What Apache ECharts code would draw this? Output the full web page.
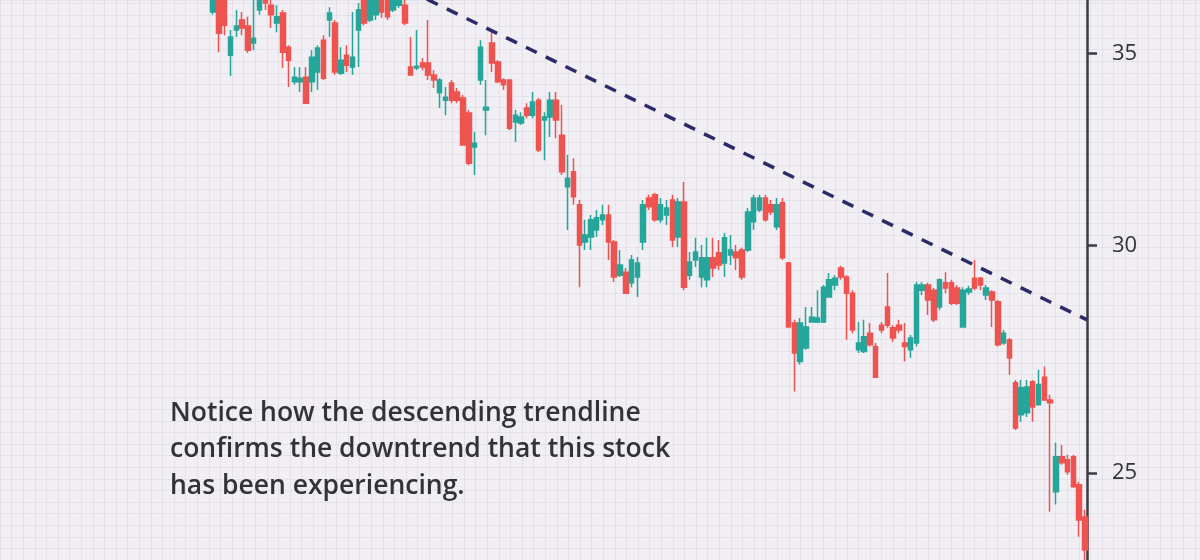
<!DOCTYPE html>
<html><head><meta charset="utf-8">
<script src="https://cdn.jsdelivr.net/npm/echarts@6/dist/echarts.min.js"></script>
<style>html,body{margin:0;padding:0;background:#f1eef4}#chart{width:1200px;height:560px}</style>
</head><body><div id="chart"></div>
<script>
// Daily OHLC values (price), one entry per session, left to right
const opens = [36.18, 36.67, 36.53, 34.95, 35.66, 35.95, 35.78, 35.29, 36.24, 36.67,
36.38, 35.86, 36.15, 35.17, 34.21, 34.21, 34.34, 34.21, 34.48, 35.37,
35.95, 35.86, 34.45, 34.95, 34.62, 35.66, 36.67, 35.95, 36.10, 36.53,
36.59, 36.24, 36.38, 36.38, 34.62, 34.59, 34.73, 34.73, 34.40, 33.91,
33.71, 34.18, 33.93, 33.77, 33.37, 32.47, 34.26, 33.45, 35.29, 34.76,
34.26, 34.26, 33.13, 33.10, 33.50, 33.31, 33.71, 33.18, 33.26, 33.71,
32.78, 31.45, 31.83, 31.00, 30.09, 30.21, 30.38, 30.63, 30.75, 30.09,
29.30, 29.37, 29.12, 29.26, 30.09, 31.17, 31.25, 30.63, 30.75, 31.12,
30.21, 31.07, 29.30, 29.66, 29.26, 29.19, 29.71, 29.83, 29.59, 29.78,
29.85, 29.90, 29.90, 30.58, 30.87, 31.17, 31.00, 30.46, 31.05, 29.59,
28.20, 27.34, 27.64, 28.22, 28.22, 28.22, 28.79, 29.07, 29.47, 29.26,
28.88, 27.60, 27.56, 27.97, 27.67, 28.15, 28.56, 28.09, 28.15, 27.75,
27.60, 27.75, 28.95, 29.07, 28.95, 28.56, 29.12, 29.12, 29.00, 28.11,
28.91, 29.23, 29.23, 28.84, 28.91, 28.68, 27.75, 27.82, 26.88, 26.20,
26.24, 26.90, 26.41, 27.00, 26.51, 24.63, 25.33, 25.27, 25.33, 24.77,
24.14];
const closes = [36.82, 35.57, 35.80, 35.46, 35.78, 35.72, 35.09, 35.43, 36.67, 36.44,
36.10, 36.04, 35.03, 34.81, 34.34, 34.31, 33.63, 34.89, 35.15, 34.31,
36.15, 34.48, 34.81, 34.67, 34.89, 36.24, 35.86, 36.67, 36.53, 36.18,
36.04, 36.59, 36.62, 35.86, 34.40, 34.64, 34.62, 34.40, 34.26, 34.26,
33.79, 33.71, 33.71, 32.52, 32.05, 32.57, 35.17, 33.52, 34.73, 34.21,
34.13, 32.96, 33.31, 33.26, 33.31, 33.66, 32.39, 33.26, 33.71, 33.18,
31.83, 31.67, 31.20, 30.02, 30.26, 30.63, 30.68, 30.75, 30.09, 29.26,
29.54, 28.88, 29.66, 29.59, 31.00, 30.95, 30.63, 31.00, 30.92, 30.14,
31.07, 29.02, 29.61, 29.85, 29.71, 29.71, 29.47, 29.54, 30.19, 29.90,
29.71, 29.26, 30.82, 31.17, 31.17, 30.63, 30.82, 31.00, 29.71, 28.11,
27.53, 28.20, 28.11, 28.33, 28.31, 29.02, 29.19, 29.23, 29.26, 28.88,
28.04, 27.75, 27.89, 27.71, 27.00, 28.04, 28.15, 27.86, 28.04, 27.67,
27.86, 29.07, 29.07, 28.72, 28.27, 29.19, 29.00, 28.65, 28.65, 28.95,
28.98, 29.00, 29.07, 29.00, 28.72, 27.71, 27.97, 27.42, 25.92, 26.77,
26.79, 26.36, 26.84, 26.51, 26.45, 25.33, 25.21, 25.03, 24.73, 24.08,
23.51];
const lows = [36.10, 35.03, 35.51, 34.37, 35.46, 35.51, 35.01, 35.09, 36.10, 36.24,
35.72, 35.60, 34.59, 34.07, 34.13, 33.93, 33.63, 33.93, 33.99, 34.26,
35.46, 34.40, 34.40, 34.48, 34.40, 34.62, 35.80, 35.89, 35.95, 36.01,
35.95, 36.18, 36.30, 35.80, 34.40, 34.53, 34.53, 34.26, 34.04, 33.50,
33.31, 33.63, 33.63, 32.52, 32.00, 31.75, 34.13, 32.78, 34.48, 34.18,
33.99, 32.91, 32.60, 33.05, 33.23, 33.23, 32.34, 32.13, 32.73, 32.70,
31.75, 30.38, 31.00, 29.02, 29.90, 29.90, 30.21, 30.50, 29.66, 29.14,
29.26, 28.88, 29.02, 28.79, 29.90, 30.87, 30.58, 30.56, 30.50, 29.97,
29.97, 28.95, 29.19, 29.49, 29.02, 29.02, 29.26, 29.42, 29.26, 29.54,
29.42, 29.19, 29.85, 30.38, 30.82, 30.58, 30.75, 30.38, 29.66, 28.09,
26.69, 27.27, 27.60, 28.22, 28.20, 28.20, 28.79, 28.95, 29.19, 27.82,
27.97, 27.53, 27.53, 27.67, 27.00, 27.97, 28.09, 27.78, 27.97, 27.34,
27.42, 27.67, 28.84, 28.38, 28.22, 28.49, 28.88, 28.61, 28.61, 28.11,
28.84, 28.95, 28.95, 28.72, 28.11, 27.67, 27.71, 27.05, 25.88, 26.05,
26.15, 26.05, 26.41, 26.51, 24.24, 24.38, 25.17, 24.97, 24.71, 23.76,
23.23];
const highs = [37.12, 36.97, 36.82, 35.66, 36.24, 36.18, 36.04, 36.53, 36.97, 36.82,
36.53, 36.38, 36.24, 35.23, 34.62, 34.62, 34.62, 35.09, 35.23, 35.51,
36.32, 35.95, 35.17, 35.23, 36.18, 36.44, 36.82, 36.82, 36.82, 36.82,
36.76, 36.82, 36.82, 36.53, 35.46, 35.66, 34.87, 35.95, 34.53, 34.31,
34.07, 34.26, 34.04, 33.85, 33.45, 32.86, 35.37, 34.26, 35.60, 34.81,
34.31, 34.26, 33.45, 33.39, 33.63, 33.93, 33.77, 33.39, 33.93, 33.93,
33.58, 32.26, 32.18, 31.12, 30.63, 30.75, 30.87, 31.00, 31.00, 30.14,
29.90, 29.47, 29.78, 29.73, 31.12, 31.25, 31.30, 31.17, 31.12, 31.25,
31.17, 31.57, 29.85, 30.19, 30.02, 30.19, 30.19, 30.14, 30.31, 30.26,
30.02, 29.95, 30.92, 31.25, 31.25, 31.25, 31.12, 31.17, 31.17, 29.61,
28.27, 28.31, 28.56, 28.56, 28.95, 29.07, 29.35, 29.30, 29.52, 29.30,
28.95, 28.22, 28.27, 28.20, 27.75, 28.22, 29.35, 28.15, 28.27, 28.20,
27.93, 29.14, 29.14, 29.12, 29.00, 29.23, 29.37, 29.19, 29.07, 29.02,
29.05, 29.66, 29.26, 29.07, 28.95, 28.72, 28.04, 27.86, 26.94, 26.94,
26.94, 26.94, 27.16, 27.23, 26.62, 25.62, 25.57, 25.37, 25.37, 24.83,
24.28];

// Price axis ticks
const yTicks = [25, 30, 35];

// Descending trendline: session index and price at its two ends
const trendX = [30, 150.34];
const trendY = [37.12, 28.27];

// Annotation text
const noteLines = [
  'Notice how the descending trendline',
  'confirms the downtrend that this stock',
  'has been experiencing.'
];

const candles = opens.map((o, i) => [i, o, closes[i], lows[i], highs[i]]);
const trend = trendX.map((x, i) => [x, trendY[i]]);

const chart = echarts.init(document.getElementById('chart'), null, {renderer: 'canvas'});
chart.setOption({
  backgroundColor: '#f1eef4',
  animation: false,
  title: {
    text: noteLines.join('\n'),
    left: 170, top: 395, padding: 0,
    textStyle: {fontFamily: 'Open Sans', fontSize: 26.5, fontWeight: 600, lineHeight: 36.5, color: '#333336'}
  },
  grid: [
    {left: 0, right: 113, top: 0, bottom: 0},
    {left: 0, right: 0, top: 0, bottom: 0}
  ],
  xAxis: [
    {type: 'value', gridIndex: 0, min: -36.64, max: 150.34, show: false},
    {type: 'value', gridIndex: 1, min: 0, max: 103.45, interval: 1,
     axisLine: {show: false}, axisTick: {show: false}, axisLabel: {show: false},
     splitLine: {show: true, lineStyle: {color: 'rgba(130,125,145,0.10)', width: 1}}}
  ],
  yAxis: [
    {type: 'log', gridIndex: 0, position: 'right', min: 23.32, max: 36.53,
     splitLine: {show: false},
     axisLine: {show: true, onZero: false, lineStyle: {color: '#3b3b44', width: 2.5}},
     axisTick: {show: true, customValues: yTicks, length: 10, lineStyle: {color: '#3b3b44', width: 2.5}},
     axisLabel: {show: true, customValues: yTicks, margin: 25, fontSize: 22, color: '#333338', fontFamily: 'Open Sans',
       formatter: v => String(Math.round(v))}},
    {type: 'value', gridIndex: 1, min: 0, max: 48.28, interval: 1,
     axisLine: {show: false}, axisTick: {show: false}, axisLabel: {show: false},
     splitLine: {show: true, lineStyle: {color: 'rgba(130,125,145,0.10)', width: 1}}}
  ],
  series: [
    {type: 'candlestick', xAxisIndex: 0, yAxisIndex: 0, data: candles, barWidth: 5,
     itemStyle: {color: '#26a69a', color0: '#ef5350', borderColor: '#26a69a', borderColor0: '#ef5350', borderWidth: 1.5}},
    {type: 'line', xAxisIndex: 0, yAxisIndex: 0, data: trend, symbol: 'none', z: 5,
     lineStyle: {color: '#2c2b6a', width: 3.5, type: [12, 10]}}
  ]
});
</script>
</body></html>
